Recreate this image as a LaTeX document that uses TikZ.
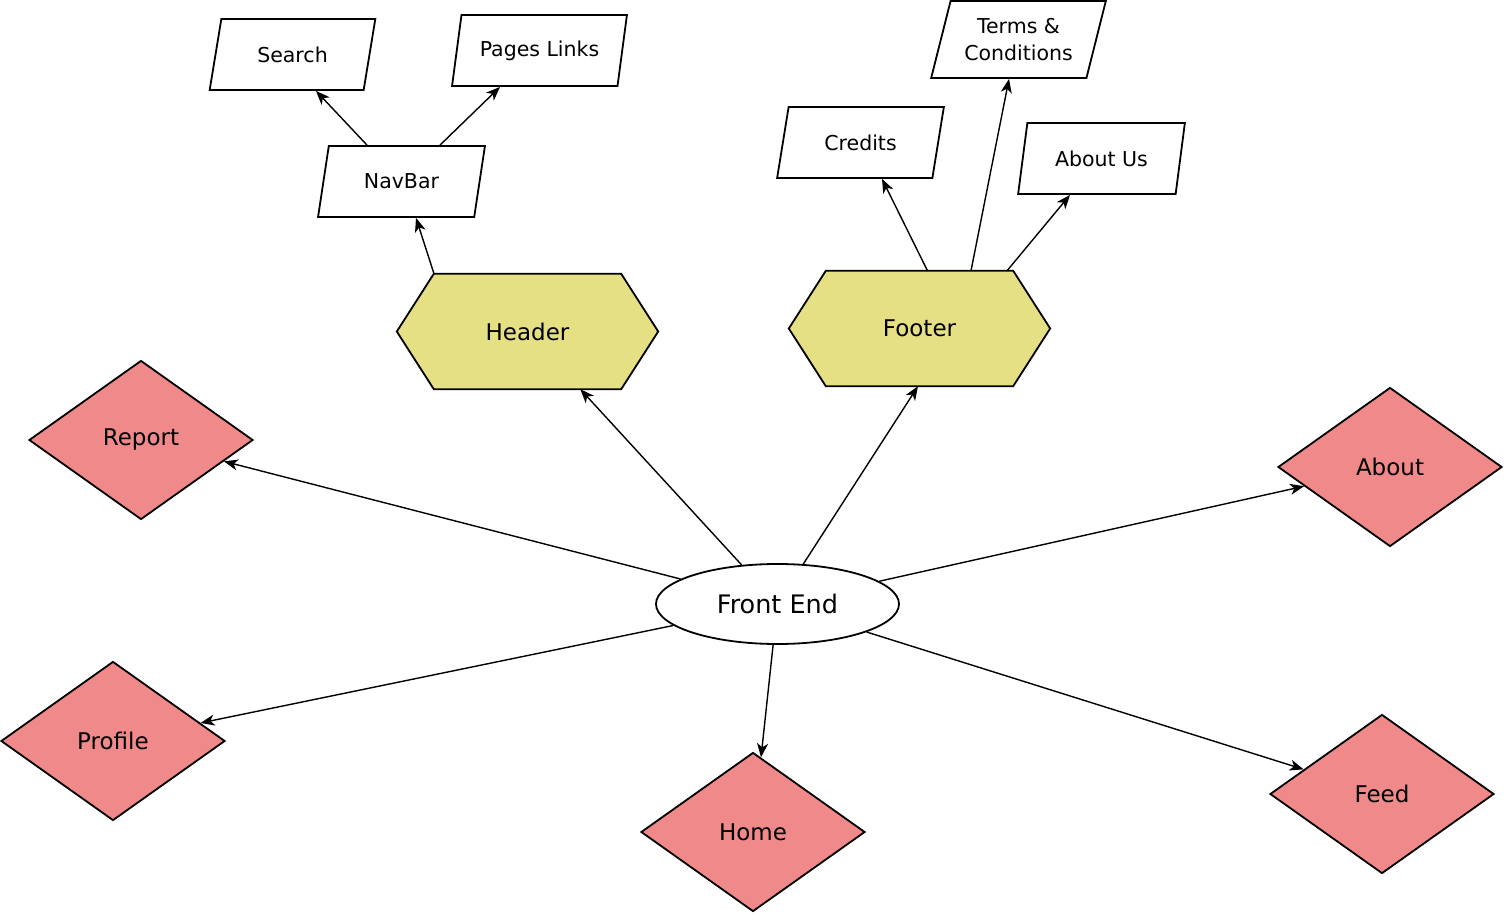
\documentclass[tikz,border=0pt]{standalone}
\usepackage{fontspec}
\setmainfont{DejaVu Sans}
\usetikzlibrary{shapes.geometric,arrows.meta,backgrounds}
\definecolor{hexfill}{RGB}{230,224,132}
\definecolor{diafill}{RGB}{240,138,138}
\tikzset{
  x=1pt,y=-1pt,
  para/.style={trapezium, trapezium left angle=70, trapezium right angle=110, trapezium stretches=true,
    draw=black, line width=1.8pt, fill=white, minimum width=167pt, minimum height=71pt, inner sep=0pt,
    font=\fontsize{20.5}{27}\selectfont, align=center},
  hexa/.style={rectangle, minimum width=261pt, minimum height=115pt, inner sep=0pt,
    font=\fontsize{23}{28}\selectfont},
  hexline/.style={draw=black, line width=1.8pt, fill=hexfill, line join=miter},
  dia/.style={diamond, draw=black, line width=1.8pt, fill=diafill, minimum width=224pt, minimum height=159pt,
    inner sep=0pt, font=\fontsize{23}{28}\selectfont},
  ell/.style={ellipse, draw=black, line width=1.8pt, fill=white, minimum width=243pt, minimum height=80pt,
    inner sep=0pt, font=\fontsize{25.5}{30}\selectfont},
  arr/.style={line width=1.4pt, -{Stealth[length=14pt,width=11pt,inset=4pt]}}
}
\begin{document}
\begin{tikzpicture}
\useasboundingbox (0,0) rectangle (1505,915);
% nodes
\node[ell] (fe) at (777.5,604) {Front End};
\node[hexa] (hd) at (527.5,331.5) {Header};
\node[hexa] (ft) at (919.5,328.5) {Footer};
\begin{scope}[on background layer]
\foreach \h in {hd,ft}
  \draw[hexline] ([xshift=37pt]\h.north west) -- ([xshift=-37pt]\h.north east) -- (\h.east)
    -- ([xshift=-37pt]\h.south east) -- ([xshift=37pt]\h.south west) -- (\h.west) -- cycle;
\end{scope}
\node[dia] (rp) at (141,440) {Report};
\node[dia] (pf) at (113,741) {Profile};
\node[dia] (hm) at (753,832) {Home};
\node[dia] (ab) at (1390,467) {About};
\node[dia] (fd) at (1382,794) {Feed};
\node[para] (se) at (292.5,54.5) {Search};
\node[para, minimum width=175pt] (pl) at (539.5,50.5) {Pages Links};
\node[para] (nb) at (401.5,181.5) {NavBar};
\node[para] (cr) at (860.5,142.5) {Credits};
\node[para, minimum width=175pt, minimum height=77pt] (tc) at (1018.5,39.5) {Terms \&\\Conditions};
\node[para] (au) at (1101.5,158.5) {About Us};
% connectors
\draw[arr] (fe) -- (hd);
\draw[arr] (fe) -- ([xshift=-1.5pt]ft.south);
\draw[arr] (fe) -- (rp);
\draw[arr] (fe) -- (pf);
\draw[arr] (fe) -- (hm);
\draw[arr] (fe) -- (ab);
\draw[arr] (fe) -- (fd);
\draw[arr] ([xshift=-93.5pt]hd.north) -- ([xshift=14.5pt]nb.south);
\draw[arr] ([xshift=-34.5pt]nb.north) -- ([xshift=23.5pt]se.south);
\draw[arr] ([xshift=38.5pt]nb.north) -- ([xshift=-39.5pt]pl.south);
\draw[arr] ([xshift=8pt]ft.north) -- ([xshift=21.5pt]cr.south);
\draw[arr] ([xshift=51.5pt]ft.north) -- ([xshift=-9.5pt]tc.south);
\draw[arr] ([xshift=87.5pt]ft.north) -- ([xshift=-31.5pt]au.south);
\end{tikzpicture}
\end{document}
